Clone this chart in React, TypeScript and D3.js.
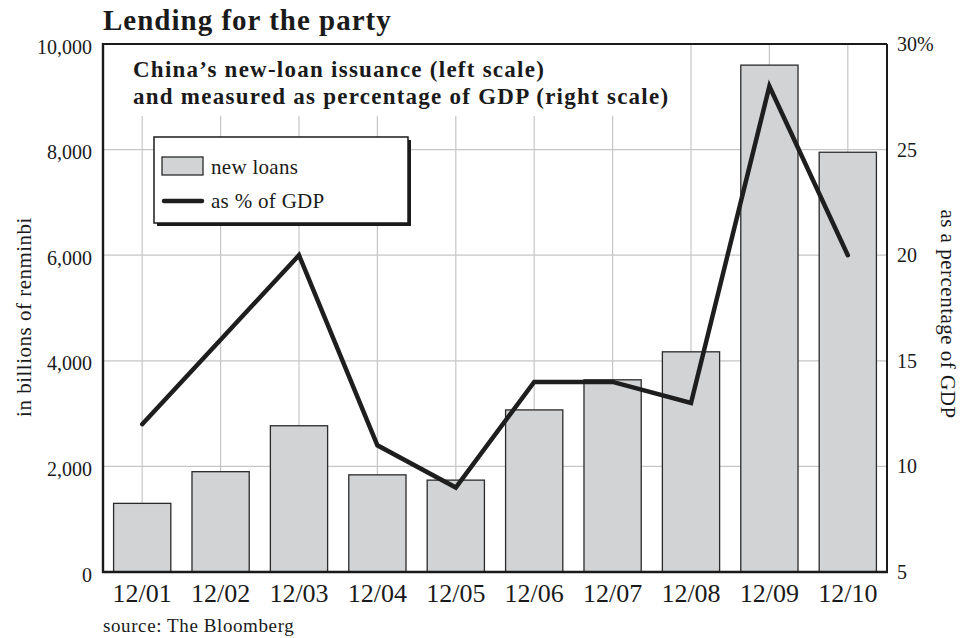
import * as d3 from "d3";
import { useRef, useEffect } from "react";

// data
const categories = ["12/01", "12/02", "12/03", "12/04", "12/05", "12/06", "12/07", "12/08", "12/09", "12/10"];
const newLoans = [1300, 1900, 2770, 1840, 1740, 3070, 3640, 4170, 9600, 7950];
const pctGdp = [12, 16, 20, 11, 9, 14, 14, 13, 28, 20];
const leftTicks = [0, 2000, 4000, 6000, 8000, 10000];
const rightTicks = [5, 10, 15, 20, 25, 30];

const FONT = "'Liberation Serif', 'Times New Roman', serif";

export default function App() {
  const width = 966;
  const height = 638;
  const marginTop = 44;
  const marginRight = 79;
  const marginBottom = 66;
  const marginLeft = 103;

  const gx = useRef<SVGGElement>(null);
  const gyL = useRef<SVGGElement>(null);
  const gyR = useRef<SVGGElement>(null);

  const x = d3.scaleBand()
    .domain(categories)
    .range([marginLeft, width - marginRight])
    .paddingInner(0.27)
    .paddingOuter(0.135);

  const yL = d3.scaleLinear()
    .domain([0, 10000])
    .range([height - marginBottom, marginTop]);

  const yR = d3.scaleLinear()
    .domain([5, 30])
    .range([height - marginBottom, marginTop]);

  const cx = (c: string) => (x(c) as number) + x.bandwidth() / 2;

  const line = d3.line<number>()
    .x((_, i) => cx(categories[i]))
    .y(d => yR(d));

  useEffect(() => {
    const ax = d3.select(gx.current!)
      .call(d3.axisBottom(x).tickSize(0).tickPadding(12));
    ax.select(".domain").remove();
    ax.selectAll("text")
      .attr("font-family", FONT)
      .attr("font-size", 26)
      .attr("fill", "#1a1a1a")
      .attr("dy", "0.71em");

    const al = d3.select(gyL.current!)
      .call(d3.axisLeft(yL).tickValues(leftTicks).tickSize(0).tickPadding(11).tickFormat(d3.format(",")));
    al.select(".domain").remove();
    al.selectAll("text")
      .attr("font-family", FONT)
      .attr("font-size", 20)
      .attr("fill", "#1a1a1a")
      .attr("dy", "0.45em");

    const ar = d3.select(gyR.current!)
      .call(d3.axisRight(yR).tickValues(rightTicks).tickSize(0).tickPadding(10)
        .tickFormat(d => (d === 30 ? "30%" : String(d))));
    ar.select(".domain").remove();
    ar.selectAll("text")
      .attr("font-family", FONT)
      .attr("font-size", 20)
      .attr("fill", "#1a1a1a")
      .attr("dy", "0.32em");
  }, []);

  const x0 = marginLeft;
  const x1 = width - marginRight;
  const y0 = height - marginBottom;
  const y1 = marginTop;

  return (
    <svg width={width} height={height} style={{ position: "absolute", left: 0, top: 0, background: "#fff" }}>
      {/* grid */}
      <g stroke="#c6c6c6" strokeWidth={1.2}>
        {categories.map(c => (
          <line key={c} x1={cx(c)} x2={cx(c)} y1={y1} y2={y0} />
        ))}
        {leftTicks.slice(1, -1).map(t => (
          <line key={t} x1={x0} x2={x1} y1={yL(t)} y2={yL(t)} />
        ))}
      </g>

      {/* white panel behind subtitle */}
      <rect x={x0 + 1} y={y1 + 1} width={574} height={71} fill="#fff" />
      <text x={133} y={77} fontFamily={FONT} fontSize={23} fontWeight="bold" letterSpacing={1.25} fill="#1a1a1a">
        China’s new-loan issuance (left scale)
      </text>
      <text x={133} y={104} fontFamily={FONT} fontSize={23} fontWeight="bold" letterSpacing={1.25} fill="#1a1a1a">
        and measured as percentage of GDP (right scale)
      </text>

      {/* bars */}
      <g fill="#d2d3d5" stroke="#2a2a2a" strokeWidth={1.3}>
        {newLoans.map((d, i) => (
          <rect
            key={i}
            x={x(categories[i])}
            y={yL(d)}
            width={x.bandwidth()}
            height={yL(0) - yL(d)}
          />
        ))}
      </g>

      {/* line */}
      <path d={line(pctGdp) || ""} fill="none" stroke="#1e1e1e" strokeWidth={4.5}
        strokeLinejoin="miter" strokeLinecap="round" />

      {/* frame */}
      <line x1={x0} x2={x1} y1={y1} y2={y1} stroke="#1a1a1a" strokeWidth={2} />
      <line x1={x1} x2={x1} y1={y1} y2={y0} stroke="#1a1a1a" strokeWidth={2} />
      <line x1={x0} x2={x0} y1={y1 - 1} y2={y0 + 1} stroke="#1a1a1a" strokeWidth={2.4} />
      <line x1={x0 - 1} x2={x1 + 1} y1={y0} y2={y0} stroke="#1a1a1a" strokeWidth={2.6} />

      {/* legend */}
      <rect x={157} y={140} width={254} height={86} fill="#1a1a1a" />
      <rect x={154} y={137} width={254} height={86} fill="#fff" stroke="#1a1a1a" strokeWidth={1.5} />
      <rect x={162} y={157} width={41} height={18} fill="#d2d3d5" stroke="#2a2a2a" strokeWidth={1.3} />
      <text x={211} y={174} fontFamily={FONT} fontSize={21} letterSpacing={0.3} fill="#1a1a1a">new loans</text>
      <line x1={164} x2={202} y1={201} y2={201} stroke="#1e1e1e" strokeWidth={4.5} strokeLinecap="round" />
      <text x={211} y={208} fontFamily={FONT} fontSize={21} letterSpacing={0.3} fill="#1a1a1a">as % of GDP</text>

      {/* axes */}
      <g ref={gx} transform={`translate(0,${y0})`} />
      <g ref={gyL} transform={`translate(${x0},0)`} />
      <g ref={gyR} transform={`translate(${x1},0)`} />

      {/* titles */}
      <text x={103} y={30} fontFamily={FONT} fontSize={29} fontWeight="bold" letterSpacing={1} fill="#1a1a1a">
        Lending for the party
      </text>
      <text transform="translate(31,317) rotate(-90)" textAnchor="middle" fontFamily={FONT} fontSize={21} letterSpacing={0.5} fill="#1a1a1a">
        in billions of renminbi
      </text>
      <text transform="translate(941,314) rotate(90)" textAnchor="middle" fontFamily={FONT} fontSize={21} letterSpacing={0.5} fill="#1a1a1a">
        as a percentage of GDP
      </text>
      <text x={103} y={632} fontFamily={FONT} fontSize={19} letterSpacing={0.6} fill="#1a1a1a">
        source: The Bloomberg
      </text>
    </svg>
  );
}
